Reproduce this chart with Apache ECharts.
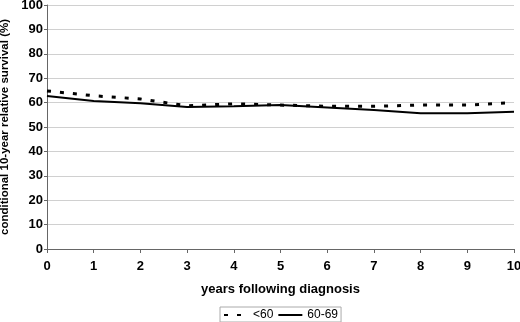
<!DOCTYPE html>
<html>
<head>
<meta charset="utf-8">
<script src="https://cdn.jsdelivr.net/npm/echarts@6/dist/echarts.min.js"></script>
<style>
html, body { margin: 0; padding: 0; background: #fff; }
#chart { width: 520px; height: 322px; }
</style>
</head>
<body>
<div id="chart"></div>
<script>
var years = ['0', '1', '2', '3', '4', '5', '6', '7', '8', '9', '10'];
var under60 = [64.8, 62.8, 61.5, 58.7, 59.5, 59.0, 58.5, 58.5, 59.0, 59.0, 60.0];
var age6069 = [62.7, 60.7, 59.7, 58.2, 58.5, 59.0, 58.0, 57.0, 55.6, 55.6, 56.2];
var yTicks = { min: 0, max: 100, step: 10 };

var myChart = echarts.init(document.getElementById('chart'));

var font = 'Liberation Sans, Arial, sans-serif';

option = {
    animation: false,
    grid: {
        left: 47,
        right: 6,
        top: 5,
        bottom: 73,
        containLabel: false,
        outerBoundsMode: 'none'
    },
    legend: {
        bottom: 0,
        left: 220,
        itemWidth: 24,
        itemHeight: 10,
        itemGap: 4,
        padding: [2, 3, 1, 3],
        borderColor: '#aaa',
        borderWidth: 1,
        itemStyle: { color: 'transparent', borderWidth: 0 },
        textStyle: { fontFamily: font, fontSize: 12, color: '#000' },
        data: ['<60', '60-69']
    },
    xAxis: {
        type: 'category',
        boundaryGap: false,
        data: years,
        name: 'years following diagnosis',
        nameLocation: 'middle',
        nameGap: 34,
        nameTextStyle: { fontFamily: font, fontSize: 13, fontWeight: 'bold', color: '#000' },
        axisLine: { lineStyle: { color: '#666', width: 1 } },
        axisTick: { show: true, alignWithLabel: true, length: 4, lineStyle: { color: '#666' } },
        axisLabel: { fontFamily: font, fontSize: 13, fontWeight: 'bold', color: '#000', margin: 11 },
        splitLine: { show: false }
    },
    yAxis: {
        type: 'value',
        min: yTicks.min,
        max: yTicks.max,
        interval: yTicks.step,
        name: 'conditional 10-year relative survival (%)',
        nameLocation: 'middle',
        nameGap: 35,
        nameTextStyle: { fontFamily: font, fontSize: 11.5, fontWeight: 'bold', color: '#000' },
        axisLine: { show: true, lineStyle: { color: '#666', width: 1 } },
        axisTick: { show: true, length: 3, lineStyle: { color: '#666' } },
        axisLabel: { fontFamily: font, fontSize: 13, fontWeight: 'bold', color: '#000', margin: 4 },
        splitLine: { lineStyle: { color: '#d0d0d0', width: 1 } }
    },
    series: [{
        name: '<60',
        type: 'line',
        data: under60,
        symbol: 'none',
        itemStyle: { color: '#000' },
        lineStyle: { color: '#000', width: 3, type: [4, 9] },
        z: 3
    }, {
        name: '60-69',
        type: 'line',
        data: age6069,
        symbol: 'none',
        itemStyle: { color: '#000' },
        lineStyle: { color: '#000', width: 2 },
        z: 2
    }]
};

myChart.setOption(option);
</script>
</body>
</html>
